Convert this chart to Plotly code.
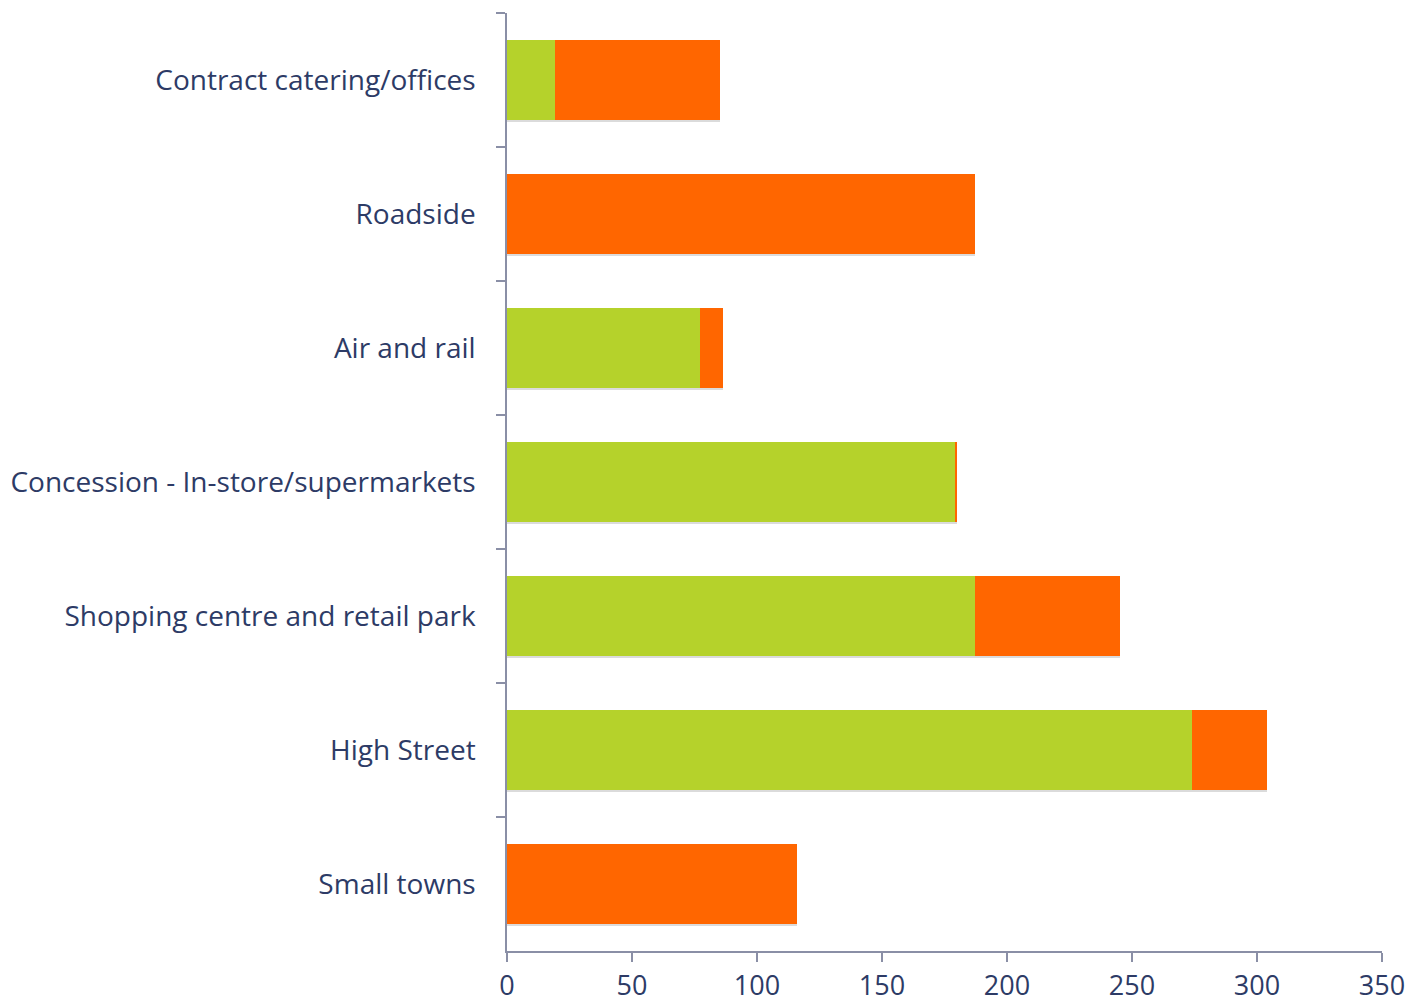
import plotly.graph_objects as go

# Outlet categories, listed top to bottom
categories = [
    "Contract catering/offices",
    "Roadside",
    "Air and rail",
    "Concession - In-store/supermarkets",
    "Shopping centre and retail park",
    "High Street",
    "Small towns",
]
green_values = [19, 0, 77, 179, 187, 274, 0]
orange_values = [66, 187, 9.5, 1, 58, 30, 116]
x_ticks = [0, 50, 100, 150, 200, 250, 300, 350]

GREEN = "#b5d22b"
ORANGE = "#ff6600"
TEXT = "#2d3b66"
AXIS = "#8a8fa6"
BAR_W = 0.59
FONT = "'Open Sans', Lato, sans-serif"

totals = [g + o for g, o in zip(green_values, orange_values)]

fig = go.Figure()

# soft drop shadow beneath each bar (drawn on the base subplot)
fig.add_trace(go.Bar(
    y=categories, x=totals, orientation="h", width=BAR_W,
    offset=-BAR_W / 2 + 0.022, marker=dict(color="rgba(110,110,110,0.25)", line=dict(width=0)),
    xaxis="x", yaxis="y", hoverinfo="skip", showlegend=False,
))

# stacked bars on an overlaid category axis
fig.add_trace(go.Bar(
    y=categories, x=green_values, orientation="h", width=BAR_W,
    marker=dict(color=GREEN, line=dict(width=0)), xaxis="x", yaxis="y2", showlegend=False,
))
fig.add_trace(go.Bar(
    y=categories, x=orange_values, orientation="h", width=BAR_W,
    marker=dict(color=ORANGE, line=dict(width=0)), xaxis="x", yaxis="y2", showlegend=False,
))

yrange = [len(categories) - 0.5, -0.5]

fig.update_layout(
    template="none",
    width=1408, height=1006,
    margin=dict(l=507, r=26, t=13, b=55, autoexpand=False),
    paper_bgcolor="white", plot_bgcolor="white",
    barmode="stack",
    font=dict(family=FONT, size=28, color=TEXT),
    xaxis=dict(
        range=[0, 350], tickvals=x_ticks, showgrid=False, zeroline=False,
        showline=True, linecolor=AXIS, linewidth=1.5, automargin=False,
        ticks="outside", ticklen=9, tickcolor=AXIS, tickwidth=1.5,
        ticklabelstandoff=1, tickfont=dict(family=FONT, size=27, color=TEXT),
    ),
    yaxis=dict(
        type="category", categoryorder="array", categoryarray=categories,
        range=yrange, showgrid=False, zeroline=False, automargin=False,
        showline=True, linecolor=AXIS, linewidth=1.5,
        ticks="outside", ticklen=9, tickcolor=AXIS, tickwidth=1.5,
        tickson="boundaries", ticklabelstandoff=24,
        tickfont=dict(family=FONT, size=28, color=TEXT),
    ),
    yaxis2=dict(
        type="category", categoryorder="array", categoryarray=categories,
        range=yrange, overlaying="y", showgrid=False, zeroline=False,
        showline=False, showticklabels=False, ticks="", automargin=False,
    ),
)

fig.write_html("out.html")
